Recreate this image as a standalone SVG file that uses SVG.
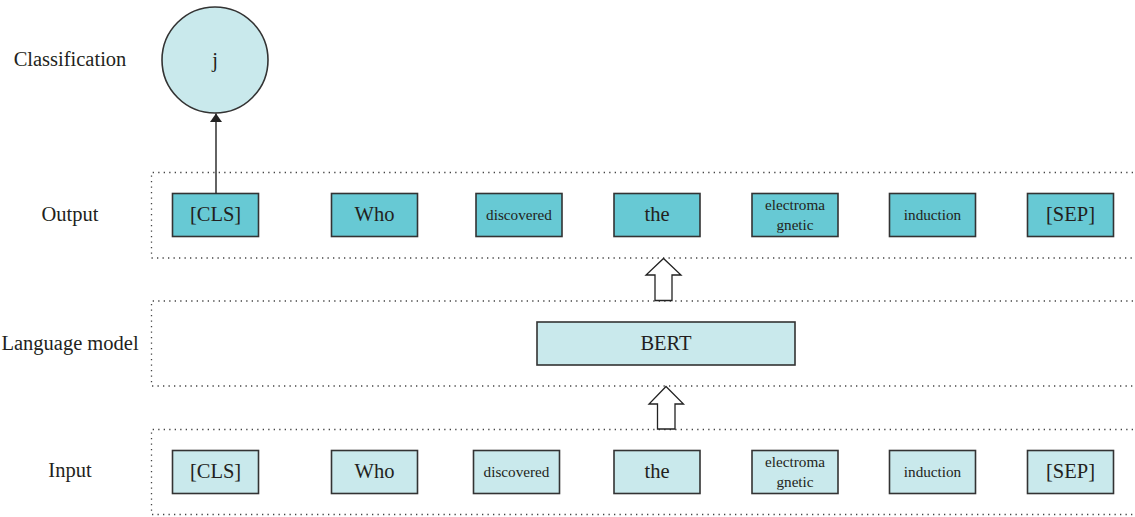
<svg xmlns="http://www.w3.org/2000/svg" width="1135" height="517" viewBox="0 0 1135 517">
  <defs>
    <style>
      text { font-family: "Liberation Serif", "Times New Roman", serif; fill: #231f20; text-anchor: middle; dominant-baseline: central; }
      .lbl { font-size: 20.5px; }
      .big { font-size: 20.5px; }
      .small { font-size: 15.2px; }
      .band { fill: none; stroke: #444; stroke-width: 1.3; stroke-dasharray: 1.3 4.2; }
      .out { fill: #67c9d4; stroke: #333; stroke-width: 1.6; }
      .in { fill: #c9e9ec; stroke: #333; stroke-width: 1.6; }
      .hollow { fill: #fff; stroke: #222; stroke-width: 1.3; stroke-linejoin: miter; }
      .link { stroke: #222; stroke-width: 1.4; fill: none; }
    </style>
    <marker id="tip" viewBox="0 0 10 14" refX="10" refY="7" markerWidth="14" markerHeight="12" markerUnits="userSpaceOnUse" orient="auto">
      <path d="M0,0 L10,7 L0,14 z" fill="#222"/>
    </marker>
  </defs>

  <!-- layer captions -->
  <g id="captions">
    <text class="lbl" x="70" y="59">Classification</text>
    <text class="lbl" x="70" y="214">Output</text>
    <text class="lbl" x="70" y="343">Language model</text>
    <text class="lbl" x="70" y="470">Input</text>
  </g>

  <!-- dotted layer bands (open on the right) -->
  <g id="bands">
    <path class="band" d="M1133,172.5 H151.5 V258 H1133"/>
    <path class="band" d="M1133,301 H151.5 V386 H1133"/>
    <path class="band" d="M1133,429.5 H151.5 V514.5 H1133"/>
  </g>

  <!-- classification node -->
  <g id="class-node">
    <circle cx="215" cy="60" r="53" fill="#c9e9ec" stroke="#333" stroke-width="1.6"/>
    <text class="big" x="215" y="60">j</text>
  </g>

  <!-- output tokens -->
  <g id="out-cls"><rect class="out" x="172.5" y="193.5" width="86" height="43"/><text class="big" x="215.5" y="214">[CLS]</text></g>
  <g id="out-who"><rect class="out" x="331.5" y="193.5" width="86" height="43"/><text class="big" x="374.5" y="214">Who</text></g>
  <g id="out-discovered"><rect class="out" x="476" y="193.5" width="86" height="43"/><text class="small" x="519" y="214">discovered</text></g>
  <g id="out-the"><rect class="out" x="614" y="193.5" width="86" height="43"/><text class="big" x="657" y="214">the</text></g>
  <g id="out-electromagnetic"><rect class="out" x="752" y="193.5" width="86" height="43"/><text class="small" x="795" y="204">electroma</text><text class="small" x="795" y="224">gnetic</text></g>
  <g id="out-induction"><rect class="out" x="889.5" y="193.5" width="86" height="43"/><text class="small" x="932.5" y="214">induction</text></g>
  <g id="out-sep"><rect class="out" x="1027.5" y="193.5" width="86" height="43"/><text class="big" x="1070.5" y="214">[SEP]</text></g>

  <!-- language model -->
  <g id="bert"><rect class="in" x="537" y="322" width="258" height="43"/><text class="big" x="666" y="343">BERT</text></g>

  <!-- input tokens -->
  <g id="in-cls"><rect class="in" x="172.5" y="450.5" width="86" height="43"/><text class="big" x="215.5" y="471">[CLS]</text></g>
  <g id="in-who"><rect class="in" x="331.5" y="450.5" width="86" height="43"/><text class="big" x="374.5" y="471">Who</text></g>
  <g id="in-discovered"><rect class="in" x="473.5" y="450.5" width="86" height="43"/><text class="small" x="516.5" y="471">discovered</text></g>
  <g id="in-the"><rect class="in" x="614" y="450.5" width="86" height="43"/><text class="big" x="657" y="471">the</text></g>
  <g id="in-electromagnetic"><rect class="in" x="752" y="450.5" width="86" height="43"/><text class="small" x="795" y="461">electroma</text><text class="small" x="795" y="481">gnetic</text></g>
  <g id="in-induction"><rect class="in" x="889.5" y="450.5" width="86" height="43"/><text class="small" x="932.5" y="471">induction</text></g>
  <g id="in-sep"><rect class="in" x="1027.5" y="450.5" width="86" height="43"/><text class="big" x="1070.5" y="471">[SEP]</text></g>

  <!-- connectors -->
  <g id="connectors">
    <line class="link" x1="216" y1="193.5" x2="216" y2="113.5" marker-end="url(#tip)"/>
    <path class="hollow" d="M655,300.5 V275 H646 L663.5,258.5 L681,275 H672 V300.5 Z"/>
    <path class="hollow" d="M657.5,429 V404 H649 L666,386.5 L683.5,404 H675 V429 Z"/>
  </g>
</svg>
